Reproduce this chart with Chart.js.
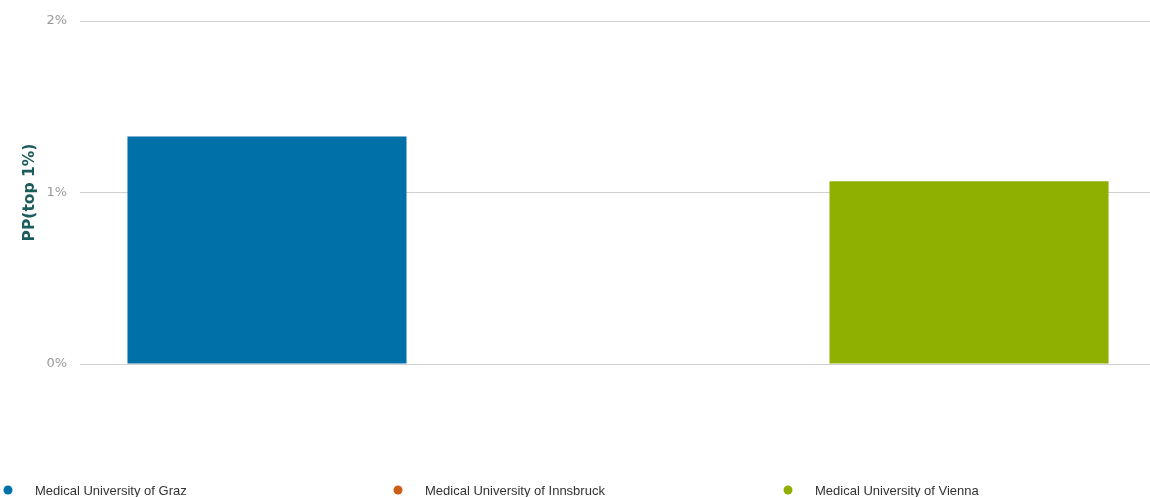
<!DOCTYPE html>
<html>
<head>
<meta charset="utf-8">
<script src="https://cdn.jsdelivr.net/npm/chart.js@4/dist/chart.umd.min.js"></script>
<style>
  html, body { margin: 0; padding: 0; background: #ffffff; }
  #wrap { position: relative; width: 1150px; height: 497px; }
</style>
</head>
<body>
<div id="wrap"><canvas id="c"></canvas></div>
<script>
// ---- data ----
const categories = [''];
const seriesNames = ['Medical University of Graz', 'Medical University of Innsbruck', 'Medical University of Vienna'];
const seriesValues = [1.326, null, 1.065];   // PP(top 1%) in %
const seriesColors = ['#0070a8', '#cc5f17', '#8fb000'];
const yTicks = [0, 1, 2];
const yTitle = 'PP(top 1%)';

const datasets = seriesNames.map((name, i) => ({
  label: name,
  data: [seriesValues[i]],
  backgroundColor: seriesColors[i],
  borderWidth: 0,
  categoryPercentage: 0.9897,
  barPercentage: 0.795
}));

// custom bottom legend with fixed column spacing (like the reference)
const legendPlugin = {
  id: 'colLegend',
  afterDraw(chart, args, opts) {
    const ctx = chart.ctx;
    ctx.save();
    ctx.font = opts.font;
    ctx.textBaseline = 'middle';
    ctx.textAlign = 'left';
    chart.data.datasets.forEach((ds, i) => {
      const x0 = opts.startX + i * opts.colWidth;
      ctx.fillStyle = ds.backgroundColor;
      ctx.beginPath();
      ctx.arc(x0, opts.y, opts.radius, 0, Math.PI * 2);
      ctx.fill();
      ctx.fillStyle = opts.color;
      ctx.fillText(ds.label, x0 + opts.textGap, opts.y + 1);
    });
    ctx.restore();
  }
};

new Chart(document.getElementById('c'), {
  type: 'bar',
  data: { labels: categories, datasets: datasets },
  plugins: [legendPlugin],
  options: {
    responsive: true,
    maintainAspectRatio: false,
    animation: false,
    layout: { padding: { top: 21, right: 0, bottom: 133, left: 0 } },
    plugins: {
      legend: { display: false },
      tooltip: { enabled: false },
      colLegend: {
        startX: 8, colWidth: 390, y: 490, radius: 4.5, textGap: 27,
        font: '13px "Liberation Sans", Arial, sans-serif', color: '#333333'
      }
    },
    scales: {
      x: { display: false },
      y: {
        min: 0, max: 2,
        afterBuildTicks: (s) => { s.ticks = yTicks.map(v => ({ value: v })); },
        afterFit: (s) => { s.width = 86; },
        border: { display: false },
        grid: { color: '#d0d0d0', lineWidth: 1, drawTicks: true, tickLength: 6, tickColor: '#d0d0d0' },
        ticks: {
          padding: 13,
          color: '#9a9a9a',
          font: { family: '"DejaVu Sans", Verdana, sans-serif', size: 13 },
          callback: (v) => v + '%'
        },
        title: {
          display: true,
          text: yTitle,
          color: '#1d5c5c',
          padding: { top: 21, bottom: 0 },
          font: { family: '"DejaVu Sans", Verdana, sans-serif', size: 15.5, weight: 'bold', lineHeight: 1.2 }
        }
      }
    }
  }
});
</script>
</body>
</html>
